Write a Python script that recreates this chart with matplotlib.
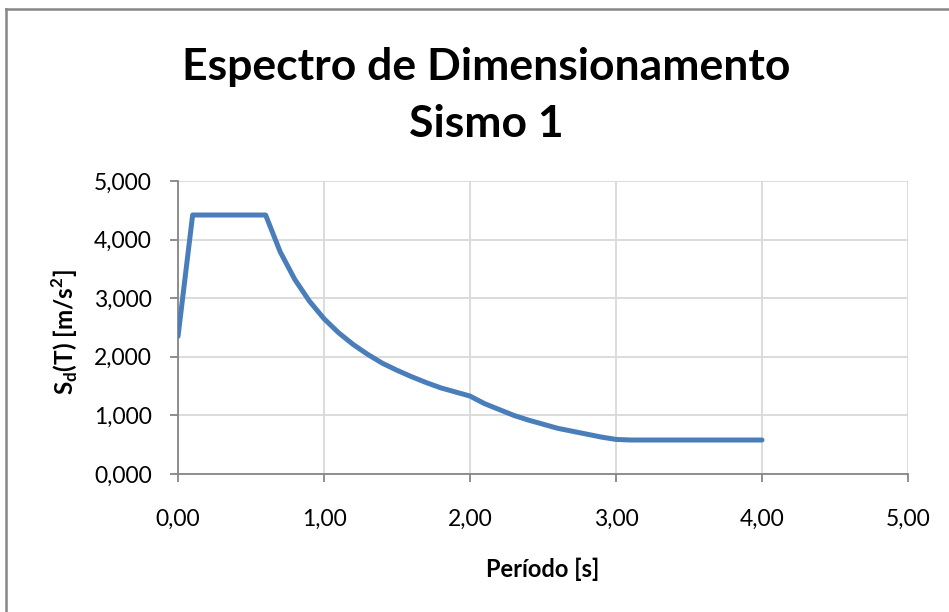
import matplotlib
matplotlib.use("Agg")
import matplotlib.pyplot as plt
from matplotlib.lines import Line2D
from matplotlib.ticker import FuncFormatter, MultipleLocator

# período (s) e aceleração espectral de cálculo (m/s2)
periodo = [0.0, 0.1, 0.2, 0.3, 0.4, 0.5, 0.6, 0.7, 0.8, 0.9,
           1.0, 1.1, 1.2, 1.3, 1.4, 1.5, 1.6, 1.7, 1.8, 1.9,
           2.0, 2.1, 2.2, 2.3, 2.4, 2.5, 2.6, 2.7, 2.8, 2.9,
           3.0, 3.1, 3.2, 3.3, 3.4, 3.5, 3.6, 3.7, 3.8, 3.9, 4.0]
sd = [2.35, 4.42, 4.42, 4.42, 4.42, 4.42, 4.42, 3.79, 3.32, 2.95,
      2.65, 2.41, 2.21, 2.04, 1.89, 1.77, 1.66, 1.56, 1.47, 1.40,
      1.33, 1.20, 1.10, 1.00, 0.92, 0.85, 0.78, 0.73, 0.68, 0.63,
      0.59, 0.58, 0.58, 0.58, 0.58, 0.58, 0.58, 0.58, 0.58, 0.58, 0.58]

titulo = ["Espectro de Dimensionamento", "Sismo 1"]
plt.rcParams["font.family"] = ["Lato", "DejaVu Sans"]

fig = plt.figure(figsize=(9.49, 6.12), dpi=100)
ax = fig.add_axes([0.1876, 0.2255, 0.7692, 0.4787])

ax.plot(periodo, sd, color="#4A7EBB", lw=3.6, solid_capstyle="round",
        solid_joinstyle="round", zorder=3)

ax.set_xlim(0, 5)
ax.set_ylim(0, 5)
ax.xaxis.set_major_locator(MultipleLocator(1))
ax.yaxis.set_major_locator(MultipleLocator(1))
ax.xaxis.set_major_formatter(FuncFormatter(lambda v, p: f"{v:.2f}".replace(".", ",")))
ax.yaxis.set_major_formatter(FuncFormatter(lambda v, p: f"{v:.3f}".replace(".", ",")))

ax.grid(True, color="#D9D9D9", lw=1.3)
ax.set_axisbelow(True)
for s in ["top", "right"]:
    ax.spines[s].set_visible(False)
for s in ["left", "bottom"]:
    ax.spines[s].set_color("#868686")
    ax.spines[s].set_linewidth(1.3)
ax.tick_params(length=6, width=1.3, color="#868686", labelsize=16.5,
               labelcolor="black")
ax.tick_params(axis="x", pad=19)
ax.tick_params(axis="y", pad=13)

ax.set_xlabel("Período [s]", fontsize=17, fontweight="bold", va="baseline")
ax.xaxis.set_label_coords(0.5, -0.3515)
ax.set_ylabel(r"S$_\mathregular{d}$(T) [m/s$^\mathregular{2}$]", fontsize=17.5,
              fontweight="bold", va="center")
ax.yaxis.set_label_coords(-0.1548, 0.483)

# título em duas linhas, posicionadas pela linha de base
for linha, y in zip(titulo, [0.8693, 0.7761]):
    fig.text(0.5127, y, linha, ha="center", va="baseline", fontsize=32,
             fontweight="bold")

# moldura da área do gráfico
fig.add_artist(Line2D([0.0068, 0.0068], [0, 0.985], color="#868686", lw=1.8))
fig.add_artist(Line2D([0.0068, 1.0], [0.985, 0.985], color="#868686", lw=1.8))

fig.savefig("out.png", dpi=100)
